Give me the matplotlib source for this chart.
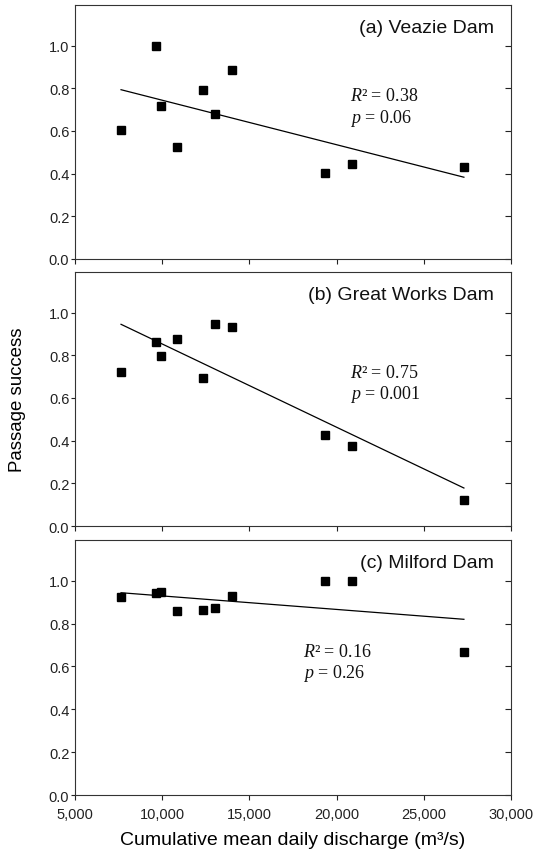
import matplotlib
matplotlib.use("Agg")
import matplotlib.pyplot as plt
from matplotlib.ticker import FuncFormatter

plt.rcParams["font.family"] = ["Liberation Sans", "DejaVu Sans"]
plt.rcParams["mathtext.fontset"] = "custom"
plt.rcParams["mathtext.it"] = "Liberation Serif:italic"
plt.rcParams["mathtext.rm"] = "Liberation Serif"

# cumulative mean daily discharge (m3/s), same years in each panel
discharge = [7640, 9630, 9930, 10830, 12320, 13030, 13980, 19340, 20900, 27300]

veazie = [0.606, 1.0, 0.715, 0.524, 0.790, 0.681, 0.887, 0.401, 0.444, 0.429]
great_works = [0.723, 0.862, 0.798, 0.875, 0.694, 0.948, 0.933, 0.428, 0.377, 0.122]
milford = [0.924, 0.943, 0.946, 0.859, 0.862, 0.871, 0.930, 1.0, 1.0, 0.669]

# fitted regression line values at the ends of the discharge range
fit_x = [7640, 27300]
fit_veazie = [0.793, 0.383]
fit_great_works = [0.945, 0.178]
fit_milford = [0.944, 0.820]

titles = ["(a) Veazie Dam", "(b) Great Works Dam", "(c) Milford Dam"]
r2_labels = ["0.38", "0.75", "0.16"]
p_labels = ["0.06", "0.001", "0.26"]

panels = [
    (veazie, fit_veazie, (20770, 0.743, 0.642)),
    (great_works, fit_great_works, (20770, 0.700, 0.600)),
    (milford, fit_milford, (18070, 0.649, 0.552)),
]

fig = plt.figure(figsize=(5.38, 8.54), dpi=100)
rects = [
    [0.1394, 0.6956, 0.8104, 0.2974],
    [0.1394, 0.3829, 0.8104, 0.2974],
    [0.1394, 0.0679, 0.8104, 0.2986],
]

for i, (ys, fit, txt) in enumerate(panels):
    ax = fig.add_axes(rects[i])
    ax.plot(fit_x, fit, color="black", lw=0.9)
    ax.plot(discharge, ys, ls="none", marker="s", ms=5.2, color="black")
    ax.set_xlim(5000, 30000)
    ax.set_ylim(0, 1.19)
    ax.set_xticks(range(5000, 30001, 5000))
    ax.set_yticks([0, 0.2, 0.4, 0.6, 0.8, 1.0])
    ax.yaxis.set_major_formatter(FuncFormatter(lambda v, _: f"{v:.1f}"))
    ax.xaxis.set_major_formatter(FuncFormatter(lambda v, _: f"{int(v):,}"))
    ax.tick_params(axis="x", direction="out", length=3.6, width=0.8, labelsize=10.5,
                   pad=5, colors="#222222")
    ax.tick_params(axis="y", direction="out", length=2.6, width=0.8, labelsize=10.5,
                   pad=1.5, right=True, colors="#222222")
    for s in ax.spines.values():
        s.set_linewidth(0.8)
        s.set_color("#333333")
    if i < 2:
        ax.set_xticklabels([])
    ax.text(0.961, 0.895, titles[i], transform=ax.transAxes, ha="right", va="baseline",
            fontsize=14, color="#111111")
    x0, y_r, y_p = txt
    ax.text(x0, y_r, r"$R$" + "\u00b2 = " + r2_labels[i], family="Liberation Serif",
            fontsize=13, va="baseline", ha="left", color="#111111")
    ax.text(x0, y_p, r"$p$" + " = " + p_labels[i], family="Liberation Serif",
            fontsize=13, va="baseline", ha="left", color="#111111")
    if i == 2:
        ax.set_xlabel("Cumulative mean daily discharge (m\u00b3/s)", fontsize=14, labelpad=7)
    # right side ticks point inward
    for tk in ax.yaxis.get_major_ticks():
        tk.tick2line.set_marker(0)
        tk.tick2line.set_markersize(4)

fig.text(0.032, 0.532, "Passage success", rotation=90, ha="center", va="center", fontsize=13.4)

fig.savefig("out.png", dpi=100)
